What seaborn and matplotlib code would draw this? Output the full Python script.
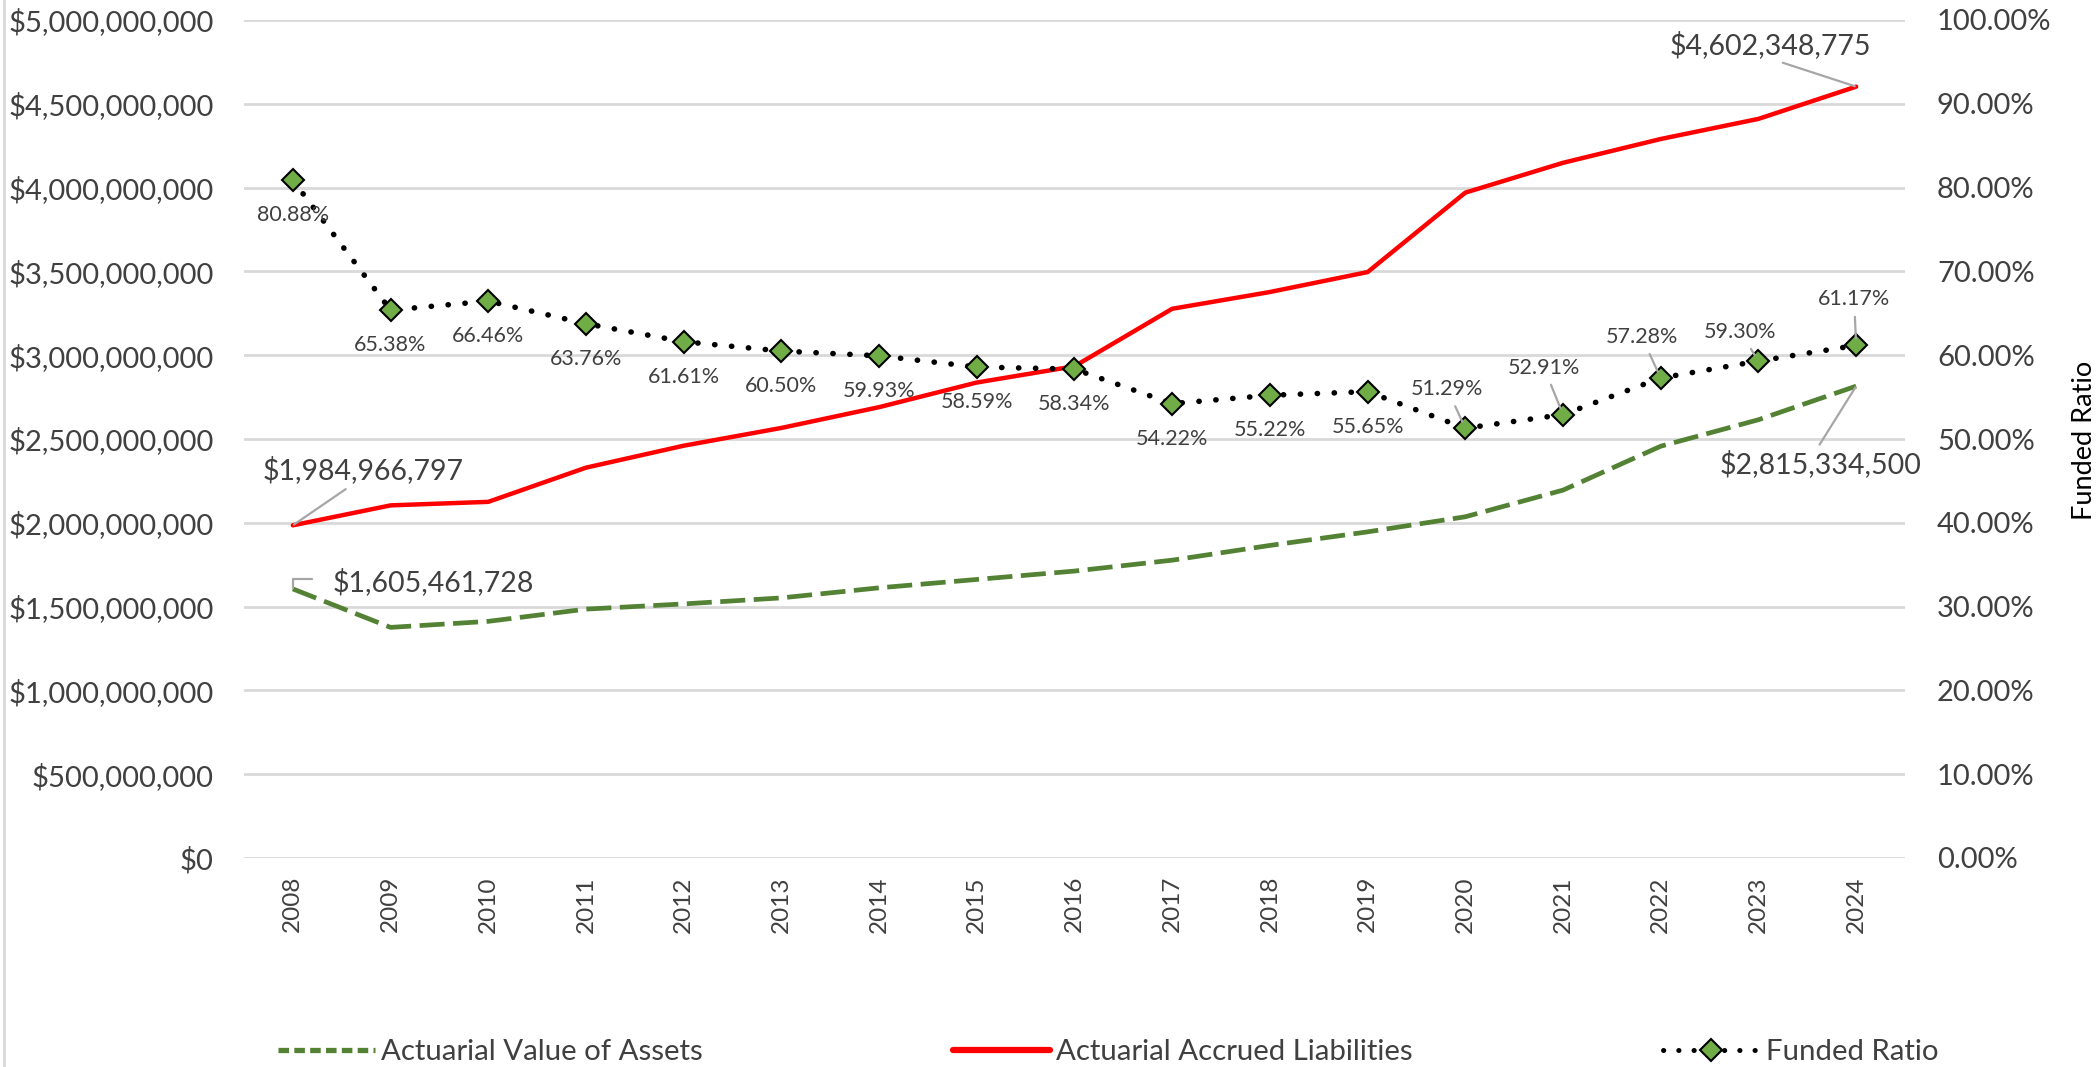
import matplotlib
matplotlib.use("Agg")
import matplotlib.pyplot as plt
import seaborn as sns
import pandas as pd
from matplotlib.ticker import FuncFormatter, MultipleLocator
from matplotlib.lines import Line2D

# ---------------- data ----------------
years = [2008, 2009, 2010, 2011, 2012, 2013, 2014, 2015, 2016,
         2017, 2018, 2019, 2020, 2021, 2022, 2023, 2024]
assets = [1605461728, 1376e6, 1412e6, 1485e6, 1516e6, 1552e6, 1612e6, 1662e6, 1712e6,
          1777e6, 1865e6, 1946e6, 2036e6, 2195e6, 2457e6, 2615e6, 2815334500]
liabilities = [1984966797, 2104e6, 2125e6, 2329e6, 2460e6, 2566e6, 2690e6, 2837e6, 2934e6,
               3277e6, 3377e6, 3496e6, 3970e6, 4148e6, 4290e6, 4410e6, 4602348775]
funded_ratio = [80.88, 65.38, 66.46, 63.76, 61.61, 60.50, 59.93, 58.59, 58.34,
                54.22, 55.22, 55.65, 51.29, 52.91, 57.28, 59.30, 61.17]
series_names = ["Actuarial Value of Assets", "Actuarial Accrued Liabilities", "Funded Ratio"]

df = pd.DataFrame({"Year": years, "Assets": assets,
                   "Liabilities": liabilities, "Ratio": funded_ratio})

# ---------------- style ----------------
sns.set_theme(style="white")
plt.rcParams["font.family"] = ["Lato", "DejaVu Sans"]
TXT = "#404040"
GREEN_LINE = "#548235"
GREEN_MK = "#70ad47"
RED = "#ff0000"
GRID = "#d9d9d9"
LEADER = "#a6a6a6"

W, H = 2100, 1067
fig = plt.figure(figsize=(W / 100, H / 100), dpi=100)
x0, x1, y0, y1 = 244, 1905, 20, 858
ax = fig.add_axes([x0 / W, 1 - y1 / H, (x1 - x0) / W, (y1 - y0) / H])
ax2 = ax.twinx()

asset_ls = (0, (5.3, 1.8))
ratio_ls = (0, (0.05, 3.0))

sns.lineplot(data=df, x="Year", y="Assets", ax=ax, color=GREEN_LINE, lw=3.4,
             linestyle=asset_ls, legend=False)
sns.lineplot(data=df, x="Year", y="Liabilities", ax=ax, color=RED, lw=3.2,
             legend=False)
sns.lineplot(data=df, x="Year", y="Ratio", ax=ax2, color="black", lw=4.0,
             linestyle=ratio_ls, dash_capstyle="round",
             marker="D", markersize=11.5, markerfacecolor=GREEN_MK,
             markeredgecolor="black", markeredgewidth=1.5, legend=False)

# axes setup
ax.set_xlim(years[0] - 0.5, years[-1] + 0.5)
ax.set_ylim(0, 5e9)
ax2.set_ylim(0, 100)
ax.yaxis.set_major_locator(MultipleLocator(5e8))
ax2.yaxis.set_major_locator(MultipleLocator(10))
ax.yaxis.set_major_formatter(FuncFormatter(lambda v, p: f"${v:,.0f}"))
ax2.yaxis.set_major_formatter(FuncFormatter(lambda v, p: f"{v:.2f}%"))
ax.set_xticks(years)
ax.set_xticklabels([str(y) for y in years], rotation=90)
ax.grid(False)
ax2.grid(False)
ax.yaxis.grid(True, color=GRID, lw=2)
ax.set_axisbelow(True)
for a in (ax, ax2):
    for s in a.spines.values():
        s.set_visible(False)
    a.set_xlabel("")
    a.set_ylabel("")
ax.tick_params(axis="y", length=0, pad=22, labelsize=21, labelcolor=TXT)
ax.tick_params(axis="x", length=0, pad=13, labelsize=17.5, labelcolor=TXT)
ax2.tick_params(axis="y", length=0, pad=23, labelsize=21, labelcolor=TXT)

fig.text(2084 / W, 1 - 440 / H, "Funded Ratio", rotation=90, ha="center",
         va="center", fontsize=19.5, color="black")

# ---------------- percent labels ----------------
offsets = {2020: (-18, 39), 2021: (-19, 47), 2022: (-19, 41), 2023: (-18, 29), 2024: (-2, 46)}
for yr, r in zip(years, funded_ratio):
    if yr in offsets:
        dx, dy = offsets[yr]
        ax2.annotate(f"{r:.2f}%", xy=(yr, r), xytext=(dx, dy), textcoords="offset pixels",
                     ha="center", va="center", fontsize=15.5, color=TXT,
                     arrowprops=dict(arrowstyle="-", color=LEADER, lw=1.6,
                                     shrinkA=3, shrinkB=5))
    else:
        ax2.annotate(f"{r:.2f}%", xy=(yr, r), xytext=(0, -35), textcoords="offset pixels",
                     ha="center", va="center", fontsize=15.5, color=TXT)

# ---------------- dollar labels ----------------
def money(v):
    return f"${v:,.0f}"

ax.annotate(money(liabilities[0]), xy=(years[0], liabilities[0]), xytext=(70, 55),
            textcoords="offset pixels", ha="center", va="center", fontsize=20.5, color=TXT,
            arrowprops=dict(arrowstyle="-", color=LEADER, lw=1.6, shrinkA=2, shrinkB=1,
                            relpos=(0.45, 0.0)))
ax.annotate(money(assets[0]), xy=(years[0], assets[0]), xytext=(140, 7),
            textcoords="offset pixels", ha="center", va="center", fontsize=20.5, color=TXT,
            arrowprops=dict(arrowstyle="-", color=LEADER, lw=1.6, shrinkA=12, shrinkB=1,
                            relpos=(0.0, 0.62),
                            connectionstyle="angle,angleA=0,angleB=90,rad=0"))
ax.annotate(money(liabilities[-1]), xy=(years[-1], liabilities[-1]), xytext=(-86, 42),
            textcoords="offset pixels", ha="center", va="center", fontsize=20.5, color=TXT,
            annotation_clip=False,
            arrowprops=dict(arrowstyle="-", color=LEADER, lw=1.6, shrinkA=2, shrinkB=1,
                            relpos=(0.5, 0.0)))
ax.annotate(money(assets[-1]), xy=(years[-1], assets[-1]), xytext=(-36, -78),
            textcoords="offset pixels", ha="center", va="center", fontsize=20.5, color=TXT,
            annotation_clip=False,
            arrowprops=dict(arrowstyle="-", color=LEADER, lw=1.6, shrinkA=2, shrinkB=1,
                            relpos=(0.48, 1.0)))

# ---------------- legend ----------------
handles = [
    Line2D([], [], color=GREEN_LINE, lw=3.8, linestyle=(0, (2.0, 1.0))),
    Line2D([], [], color=RED, lw=4.5),
    Line2D([], [], color="black", lw=3.6, linestyle=ratio_ls, dash_capstyle="round",
           marker="D", markersize=11.5, markerfacecolor=GREEN_MK,
           markeredgecolor="black", markeredgewidth=1.5),
]
leg = fig.legend(handles, series_names, loc="center", bbox_to_anchor=(1108 / W, 1 - 1052 / H),
                 ncol=3, frameon=False, fontsize=21.2, handlelength=3.3,
                 handletextpad=0.2, columnspacing=8.5)
for t in leg.get_texts():
    t.set_color(TXT)

# chart border on the left
fig.add_artist(Line2D([4 / W, 4 / W], [0, 1], transform=fig.transFigure, color=GRID, lw=2))

fig.savefig("out.png", dpi=100)
